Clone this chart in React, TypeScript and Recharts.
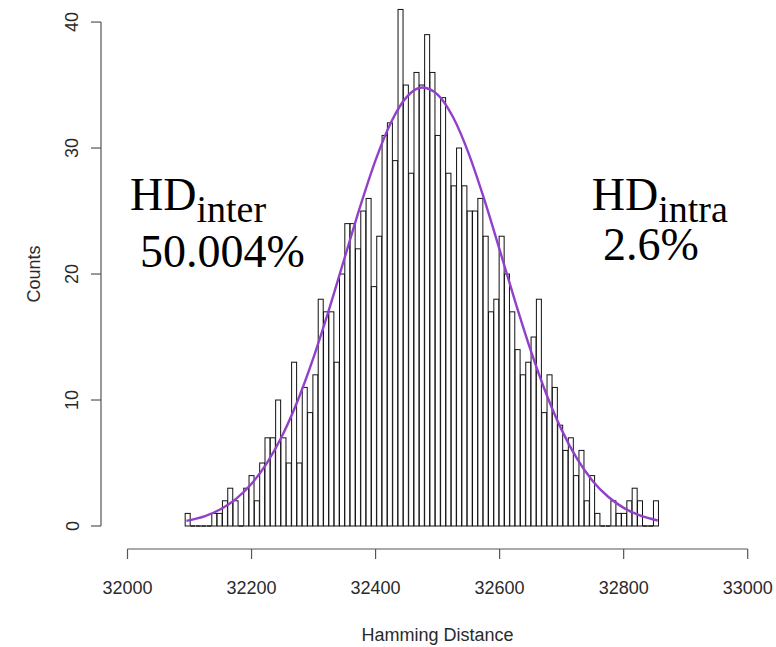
import React from "react";
import {
  ComposedChart,
  Bar,
  Line,
  XAxis,
  YAxis,
} from "recharts";

// histogram counts per bin (left to right)
const binCounts = [
  1, 0, 0, 0, 0, 1, 1, 2, 3, 2,
  0, 3, 4, 2, 5, 7, 7, 10, 7, 5,
  13, 5, 11, 9, 12, 18, 17, 17, 13, 20,
  24, 24, 22, 25, 26, 19, 23, 31, 32, 29,
  41, 35, 28, 36, 35, 39, 36, 31, 34, 28,
  27, 30, 27, 25, 25, 26, 23, 17, 18, 23,
  20, 17, 14, 12, 13, 15, 18, 9, 12, 11,
  8, 6, 7, 4, 6, 2, 4, 1, 0, 0,
  2, 1, 1, 2, 3, 2, 0, 0, 2,
];
const binStart = 32093;
const binWidth = 8.58;

// fitted density curve
const curveX = [
  32095, 32125, 32150, 32175, 32200, 32225, 32250, 32275, 32300, 32325,
  32350, 32375, 32400, 32425, 32450, 32475, 32500, 32525, 32550, 32575,
  32600, 32625, 32650, 32675, 32700, 32725, 32750, 32775, 32800, 32825,
  32855,
];
const curveY = [
  0.41, 0.79, 1.33, 2.15, 3.35, 5.01, 7.22, 10.02, 13.38, 17.19,
  21.27, 25.33, 29.04, 32.05, 34.04, 34.8, 34.24, 32.44, 29.58, 25.96,
  21.93, 17.83, 13.96, 10.52, 7.63, 5.32, 3.58, 2.32, 1.44, 0.86,
  0.44,
];

const xTicks = [32000, 32200, 32400, 32600, 32800, 33000];
const yTicks = [0, 10, 20, 30, 40];

const X_DOMAIN: [number, number] = [32000, 33000];
const Y_MAX = 41.75;

const W = 776;
const H = 647;
const PLOT_H = 526;
const AXIS_FONT = "'Liberation Sans', Arial, sans-serif";
const SERIF = "'Liberation Serif', 'Times New Roman', serif";

const histData = binCounts.map((count, i) => ({
  x: binStart + (i + 0.5) * binWidth,
  count,
}));
const curveData = curveX.map((x, i) => ({ x, fit: curveY[i] }));

function HistBar(props: any) {
  const { x, y, width, height } = props;
  if (!height) {
    return <line x1={x} x2={x + width} y1={y} y2={y} stroke="#111" strokeWidth={1.6} />;
  }
  return (
    <rect x={x} y={y} width={width} height={height} fill="#fff" stroke="#111" strokeWidth={1} />
  );
}

function XTick(props: any) {
  const { x, y, payload } = props;
  return (
    <text x={x} y={y} textAnchor="middle" fontSize={18} fontFamily={AXIS_FONT} fill="#2a2a2a">
      {payload.value}
    </text>
  );
}

function YTick(props: any) {
  const { x, y, payload } = props;
  return (
    <text
      x={x}
      y={y}
      transform={`rotate(-90, ${x}, ${y})`}
      textAnchor="middle"
      fontSize={18}
      fontFamily={AXIS_FONT}
      fill="#2a2a2a"
    >
      {payload.value}
    </text>
  );
}

// R draws the y axis line only between the first and last tick
const yGap = (PLOT_H * (Y_MAX - 40)) / Y_MAX;
const yLen = PLOT_H - yGap;

export default function App() {
  return (
    <div style={{ position: "absolute", left: 0, top: 0, width: W, height: H, background: "#fff" }}>
      <ComposedChart
        width={W}
        height={H}
        data={histData}
        margin={{ top: 0, right: 28.3, left: 31, bottom: 38 }}
        barCategoryGap={0}
        barGap={0}
      >
        <XAxis
          xAxisId="curve"
          dataKey="x"
          type="number"
          domain={X_DOMAIN}
          height={23}
          tick={false}
          axisLine={false}
          tickLine={false}
        />
        <XAxis
          xAxisId="main"
          dataKey="x"
          type="number"
          domain={X_DOMAIN}
          ticks={xTicks}
          interval={0}
          height={60}
          tickSize={10}
          tickMargin={35}
          tick={<XTick />}
          axisLine={{ stroke: "#555", strokeWidth: 1.2 }}
          tickLine={{ stroke: "#555", strokeWidth: 1.2 }}
        />
        <YAxis
          yAxisId="curve"
          type="number"
          domain={[0, Y_MAX]}
          width={26.5}
          tick={false}
          axisLine={false}
          tickLine={false}
        />
        <YAxis
          yAxisId="main"
          type="number"
          domain={[0, Y_MAX]}
          ticks={yTicks}
          interval={0}
          width={70}
          tickSize={10}
          tickMargin={12.5}
          tick={<YTick />}
          axisLine={{ stroke: "#555", strokeWidth: 1.2, strokeDasharray: `0 ${yGap} ${yLen} ${PLOT_H}` }}
          tickLine={{ stroke: "#555", strokeWidth: 1.2 }}
        />
        <Bar
          xAxisId="main"
          yAxisId="main"
          dataKey="count"
          shape={<HistBar />}
          isAnimationActive={false}
        />
        <Line
          xAxisId="curve"
          yAxisId="curve"
          data={curveData}
          dataKey="fit"
          type="monotone"
          dot={false}
          stroke="#9140c9"
          strokeWidth={2.4}
          isAnimationActive={false}
        />
      </ComposedChart>
      <svg
        width={W}
        height={H}
        style={{ position: "absolute", left: 0, top: 0, pointerEvents: "none" }}
      >
        <text
          x={40}
          y={274}
          transform="rotate(-90, 40, 274)"
          textAnchor="middle"
          fontSize={18}
          fontFamily={AXIS_FONT}
          fill="#2a2a2a"
        >
          Counts
        </text>
        <text x={437.6} y={641} textAnchor="middle" fontSize={18} fontFamily={AXIS_FONT} fill="#2a2a2a">
          Hamming Distance
        </text>
        <text x={130} y={210} fontSize={46} fontFamily={SERIF} fill="#000">
          HD<tspan fontSize={38} dy={11.7}>inter</tspan>
        </text>
        <text x={140} y={266.7} fontSize={46} fontFamily={SERIF} fill="#000">
          50.004%
        </text>
        <text x={591.7} y={210} fontSize={46} fontFamily={SERIF} fill="#000">
          HD<tspan fontSize={38} dy={11.7}>intra</tspan>
        </text>
        <text x={603} y={260} fontSize={46} fontFamily={SERIF} fill="#000">
          2.6%
        </text>
      </svg>
    </div>
  );
}
